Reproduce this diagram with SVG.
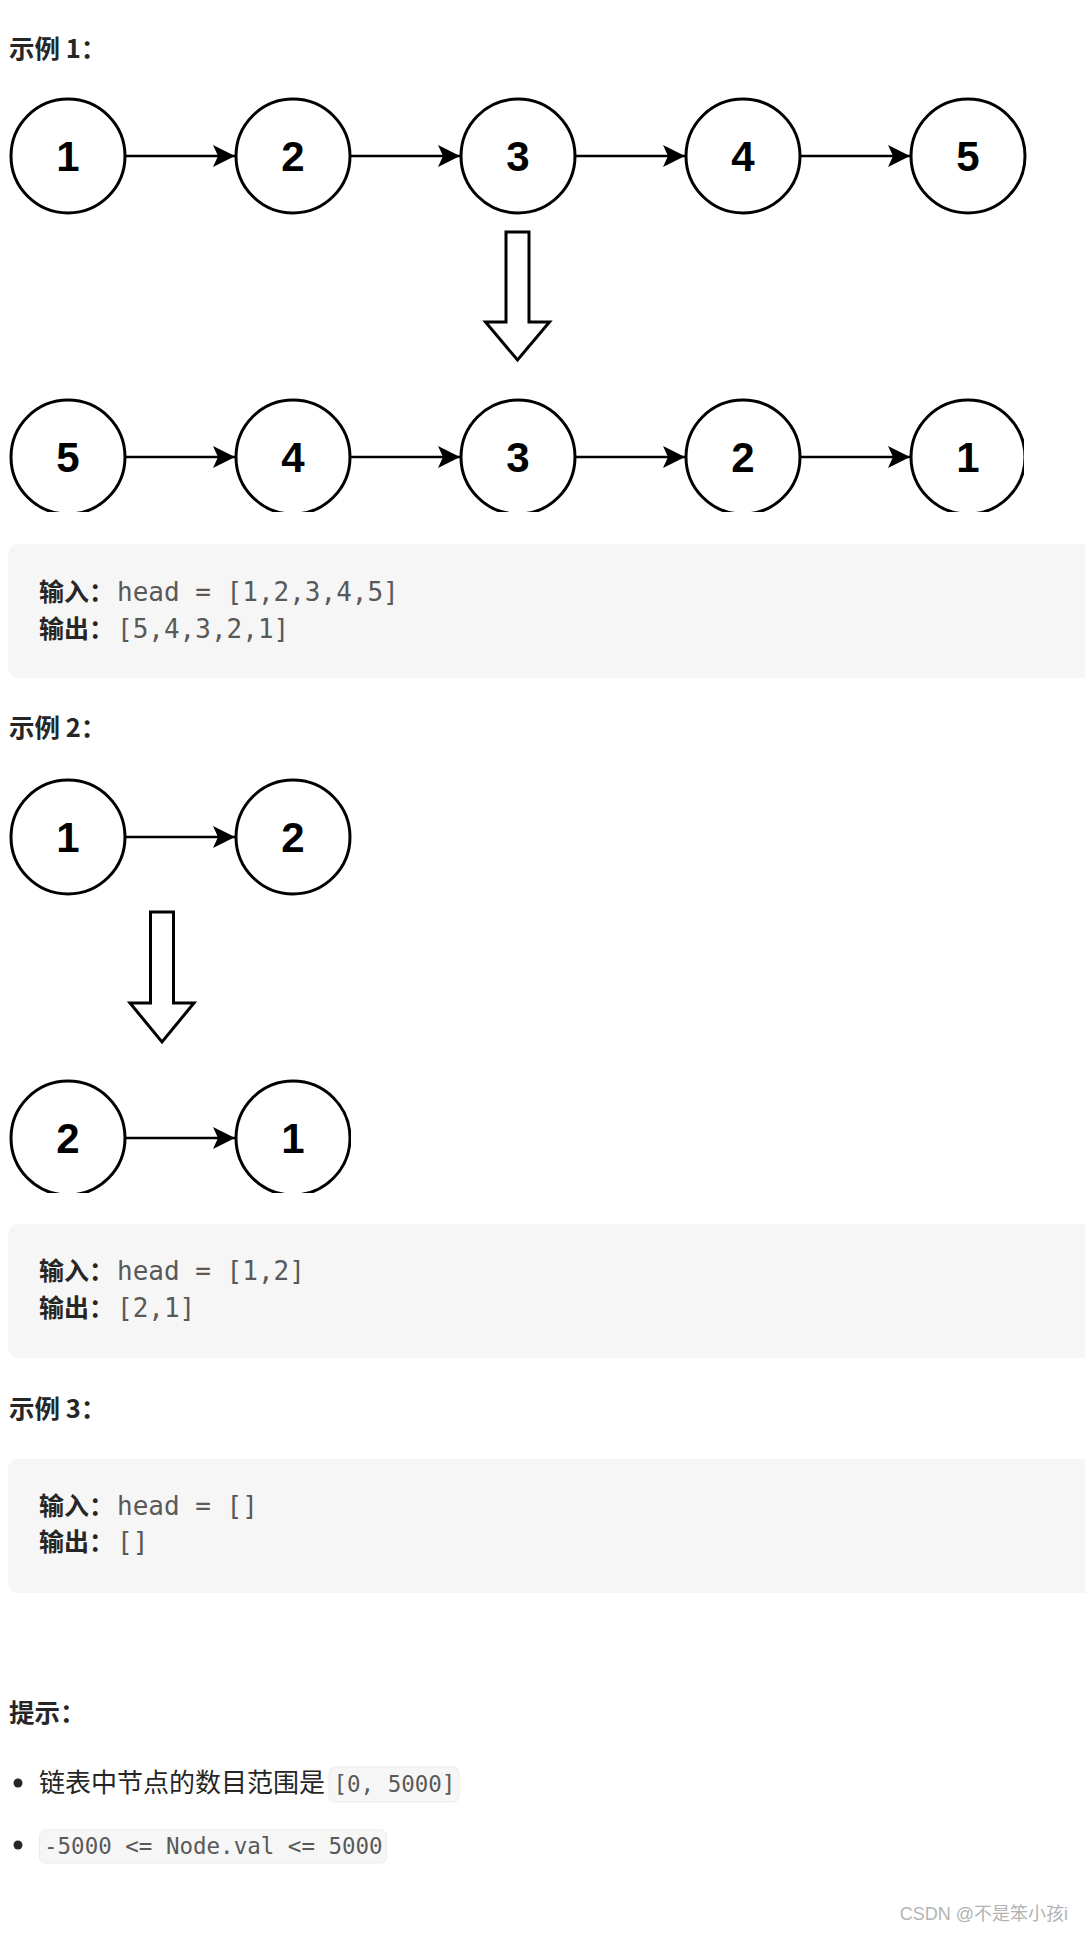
<svg xmlns="http://www.w3.org/2000/svg" width="1085" height="1933" viewBox="0 0 1085 1933">
<style>
.node circle{fill:#fff;stroke:#000;stroke-width:3}
.node text{font-family:"Liberation Sans",Arial,sans-serif;font-weight:bold;font-size:42px;fill:#000;text-anchor:middle}
.edge{stroke:#000;stroke-width:2.6;fill:none}
.bigarrow{fill:#fff;stroke:#000;stroke-width:3;stroke-linejoin:miter}
.h{font-family:"Noto Sans CJK SC",sans-serif;font-weight:bold;font-size:25.5px;fill:#262626}
.lbl{font-family:"Noto Sans CJK SC",sans-serif;font-weight:bold;font-size:25px;fill:#262626}
.code{font-family:"DejaVu Sans Mono",monospace;font-size:26px;fill:#595959}
.block{fill:#f6f6f6}
.body{font-family:"Noto Sans CJK SC",sans-serif;font-size:26px;fill:#262626}
.icode{font-family:"DejaVu Sans Mono",monospace;font-size:22.5px;fill:#595959}
.ibox{fill:#f6f6f6;stroke:#ebebeb;stroke-width:1}
.wm{font-family:"Liberation Sans","Noto Sans CJK SC",sans-serif;font-size:18px;fill:#b3b3b3}
</style>
<defs>
<marker id="ah" markerUnits="userSpaceOnUse" markerWidth="24" markerHeight="24" viewBox="0 0 24 24" refX="23" refY="12" orient="auto">
<path d="M1,1 L23,12 L1,23 L6,12 Z" fill="#000"/>
</marker>
<clipPath id="clip1"><rect x="0" y="380" width="1024" height="132"/></clipPath>
<clipPath id="clip2"><rect x="0" y="1060" width="351" height="133"/></clipPath>
</defs>
<rect width="1085" height="1933" fill="#fff"/>

<!-- Example 1 -->
<text class="h" x="9" y="57.5">示例 1：</text>
<g id="ex1-top">
<g id="n1a" class="node"><circle cx="68" cy="156" r="57"/><text x="68" y="171">1</text></g>
<g id="n2a" class="node"><circle cx="293" cy="156" r="57"/><text x="293" y="171">2</text></g>
<g id="n3a" class="node"><circle cx="518" cy="156" r="57"/><text x="518" y="171">3</text></g>
<g id="n4a" class="node"><circle cx="743" cy="156" r="57"/><text x="743" y="171">4</text></g>
<g id="n5a" class="node"><circle cx="968" cy="156" r="57"/><text x="968" y="171">5</text></g>
</g>
<g id="ex1-bottom" clip-path="url(#clip1)">
<g id="n5b" class="node"><circle cx="68" cy="457" r="57"/><text x="68" y="472">5</text></g>
<g id="n4b" class="node"><circle cx="293" cy="457" r="57"/><text x="293" y="472">4</text></g>
<g id="n3b" class="node"><circle cx="518" cy="457" r="57"/><text x="518" y="472">3</text></g>
<g id="n2b" class="node"><circle cx="743" cy="457" r="57"/><text x="743" y="472">2</text></g>
<g id="n1b" class="node"><circle cx="968" cy="457" r="57"/><text x="968" y="472">1</text></g>
</g>

<!-- Example 2 -->
<g id="ex2-top">
<g id="m1a" class="node"><circle cx="68" cy="837" r="57"/><text x="68" y="852">1</text></g>
<g id="m2a" class="node"><circle cx="293" cy="837" r="57"/><text x="293" y="852">2</text></g>
</g>
<g id="ex2-bottom" clip-path="url(#clip2)">
<g id="m2b" class="node"><circle cx="68" cy="1138" r="57"/><text x="68" y="1153">2</text></g>
<g id="m1b" class="node"><circle cx="293" cy="1138" r="57"/><text x="293" y="1153">1</text></g>
</g>

<g id="connectors">
<line class="edge" x1="125" y1="156" x2="235" y2="156" marker-end="url(#ah)"/>
<line class="edge" x1="350" y1="156" x2="460" y2="156" marker-end="url(#ah)"/>
<line class="edge" x1="575" y1="156" x2="685" y2="156" marker-end="url(#ah)"/>
<line class="edge" x1="800" y1="156" x2="910" y2="156" marker-end="url(#ah)"/>
<g clip-path="url(#clip1)">
<line class="edge" x1="125" y1="457" x2="235" y2="457" marker-end="url(#ah)"/>
<line class="edge" x1="350" y1="457" x2="460" y2="457" marker-end="url(#ah)"/>
<line class="edge" x1="575" y1="457" x2="685" y2="457" marker-end="url(#ah)"/>
<line class="edge" x1="800" y1="457" x2="910" y2="457" marker-end="url(#ah)"/>
</g>
<line class="edge" x1="125" y1="837" x2="235" y2="837" marker-end="url(#ah)"/>
<line class="edge" x1="125" y1="1138" x2="235" y2="1138" marker-end="url(#ah)"/>
<polygon id="bigarrow1" class="bigarrow" points="506,232 529,232 529,322 549.5,322 517.5,360 485.5,322 506,322"/>
<polygon id="bigarrow2" class="bigarrow" points="150.5,912 173.5,912 173.5,1003 194,1003 162,1042 130,1003 150.5,1003"/>
</g>

<g id="block1">
<path class="block" d="M18,544 H1085 V678 H18 A10,10 0 0 1 8,668 V554 A10,10 0 0 1 18,544 Z"/>
<text class="lbl" x="39" y="601">输入：</text><text class="code" x="117" y="601">head = [1,2,3,4,5]</text>
<text class="lbl" x="39" y="638">输出：</text><text class="code" x="117" y="638">[5,4,3,2,1]</text>
</g>

<text class="h" x="9" y="737">示例 2：</text>

<g id="block2">
<path class="block" d="M18,1224 H1085 V1358 H18 A10,10 0 0 1 8,1348 V1234 A10,10 0 0 1 18,1224 Z"/>
<text class="lbl" x="39" y="1280">输入：</text><text class="code" x="117" y="1280">head = [1,2]</text>
<text class="lbl" x="39" y="1317">输出：</text><text class="code" x="117" y="1317">[2,1]</text>
</g>

<text class="h" x="9" y="1418">示例 3：</text>

<g id="block3">
<path class="block" d="M18,1459 H1085 V1593 H18 A10,10 0 0 1 8,1583 V1469 A10,10 0 0 1 18,1459 Z"/>
<text class="lbl" x="39" y="1515">输入：</text><text class="code" x="117" y="1515">head = []</text>
<text class="lbl" x="39" y="1551">输出：</text><text class="code" x="117" y="1551">[]</text>
</g>

<text class="h" x="9" y="1722">提示：</text>

<g id="hint1">
<circle cx="18" cy="1783" r="4.5" fill="#262626"/>
<text class="body" x="39" y="1792">链表中节点的数目范围是</text>
<rect class="ibox" x="329" y="1767" width="130" height="35" rx="6"/>
<text class="icode" x="333.5" y="1792">[0, 5000]</text>
</g>
<g id="hint2">
<circle cx="18" cy="1845" r="4.5" fill="#262626"/>
<rect class="ibox" x="39.5" y="1830" width="347" height="33" rx="6"/>
<text class="icode" x="44" y="1854">-5000 &lt;= Node.val &lt;= 5000</text>
</g>

<text class="wm" x="1068" y="1920" text-anchor="end">CSDN @不是笨小孩i</text>
</svg>
